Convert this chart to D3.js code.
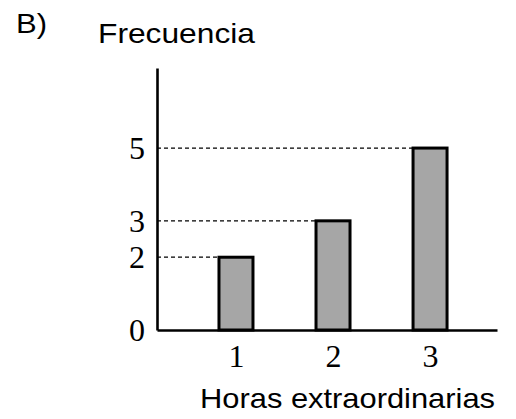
<!DOCTYPE html>
<html>
<head>
<meta charset="utf-8">
<script src="https://cdn.jsdelivr.net/npm/d3@7"></script>
<style>
  body { margin: 0; background: #fff; }
  svg { display: block; }
</style>
</head>
<body>
<script>
var horas = [1, 2, 3];
var frecuencia = [2, 3, 5];
var yTicks = [0, 2, 3, 5];

var width = 516, height = 419;

var svg = d3.select('body').append('svg')
  .attr('width', width)
  .attr('height', height);

// scales, axis lines run a bit past the data
var x = d3.scaleLinear().domain([0.186, 3.69]).range([157, 497]);
var y = d3.scaleLinear().domain([0, 7.2]).range([330, 68]);
var barW = 34;

// dashed guides from the y axis to each bar
svg.selectAll('.guide')
  .data(frecuencia)
  .enter()
  .append('line')
  .attr('class', 'guide')
  .attr('x1', x.range()[0])
  .attr('x2', function(d, i){ return x(horas[i]) - barW / 2; })
  .attr('y1', function(d){ return y(d); })
  .attr('y2', function(d){ return y(d); })
  .attr('stroke', '#000')
  .attr('stroke-width', 1.2)
  .attr('stroke-dasharray', '4,3');

// bars
svg.selectAll('.bar')
  .data(frecuencia)
  .enter()
  .append('rect')
  .attr('class', 'bar')
  .attr('x', function(d, i){ return x(horas[i]) - barW / 2; })
  .attr('y', function(d){ return y(d); })
  .attr('width', barW)
  .attr('height', function(d){ return y(0) - y(d); })
  .attr('fill', '#a6a6a6')
  .attr('stroke', '#000')
  .attr('stroke-width', 3);

// axes
var yAxis = svg.append('g')
  .attr('transform', 'translate(' + x.range()[0] + ',0)')
  .call(d3.axisLeft(y).tickValues(yTicks).tickFormat(d3.format('d'))
    .tickSize(0).tickSizeOuter(0).tickPadding(12));

var xAxis = svg.append('g')
  .attr('transform', 'translate(0,' + y(0) + ')')
  .call(d3.axisBottom(x).tickValues(horas).tickFormat(d3.format('d'))
    .tickSize(0).tickSizeOuter(0).tickPadding(14));

[yAxis, xAxis].forEach(function(g){
  g.select('.domain').attr('stroke', '#000').attr('stroke-width', 2.6);
  g.selectAll('text')
    .attr('fill', '#000')
    .style('font-family', '"Liberation Serif", "Times New Roman", serif')
    .style('font-size', '32px');
});

// titles (the source text is a little wider than the font, so stretch it)
function label(txt, tx, ty, len){
  svg.append('text')
    .attr('x', tx).attr('y', ty)
    .attr('textLength', len)
    .attr('lengthAdjust', 'spacingAndGlyphs')
    .style('font-family', '"Liberation Sans", Arial, sans-serif')
    .style('font-size', '28px')
    .text(txt);
}
label('B)', 16, 33, 31);
label('Frecuencia', 98, 43, 157);
label('Horas extraordinarias', 200, 408, 295);
</script>
</body>
</html>
